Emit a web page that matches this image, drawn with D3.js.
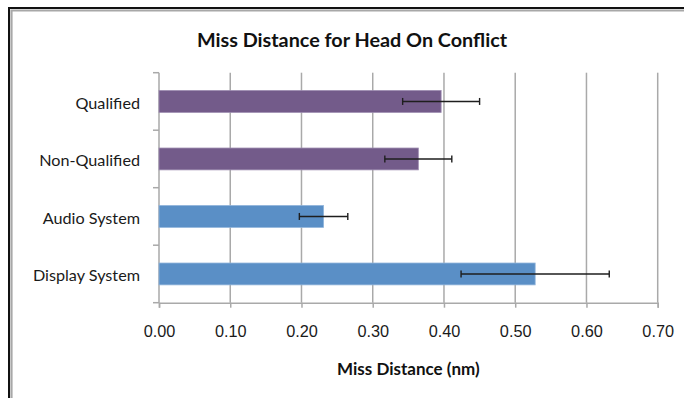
<!DOCTYPE html>
<html>
<head>
<meta charset="utf-8">
<script src="https://cdn.jsdelivr.net/npm/d3@7"></script>
<style>
  body { margin: 0; background: #fff; }
  svg { display: block; font-family: Lato, "Open Sans", sans-serif; }
</style>
</head>
<body>
<div id="chart"></div>
<script>
// chart data
var categories = ["Qualified", "Non-Qualified", "Audio System", "Display System"];
var missDistance = [0.396, 0.364, 0.231, 0.528];
var errorHalf = [0.054, 0.047, 0.034, 0.104];
var xTicks = [0, 0.1, 0.2, 0.3, 0.4, 0.5, 0.6, 0.7];

var svgWidth = 684, svgHeight = 398;
var margin = { top: 72.7, right: 26.3, bottom: 95.3, left: 159 };
var width = svgWidth - margin.left - margin.right;
var height = svgHeight - margin.top - margin.bottom;

var svg = d3.select("#chart").append("svg")
  .attr("width", svgWidth)
  .attr("height", svgHeight);

// outer frame (cut off at right / bottom)
svg.append("path")
  .attr("d", "M11.5,398V10.5H684")
  .attr("fill", "none")
  .attr("stroke", "#a8a8a8")
  .attr("stroke-width", 2.2);
svg.append("path")
  .attr("d", "M9,398V8H684")
  .attr("fill", "none")
  .attr("stroke", "#111")
  .attr("stroke-width", 2);

var chartGroup = svg.append("g")
  .attr("transform", `translate(${margin.left}, ${margin.top})`);

var x = d3.scaleLinear().domain([0, 0.7]).range([0, width]);
var y = d3.scaleBand().domain(categories).range([0, height])
  .paddingInner(0.62).paddingOuter(0.31);
var color = d3.scaleOrdinal()
  .domain(categories)
  .range(["#735b8a", "#735b8a", "#5a8fc6", "#5a8fc6"]);
var edge = d3.scaleOrdinal()
  .domain(categories)
  .range(["#9c8bb0", "#9c8bb0", "#8fb3da", "#8fb3da"]);

// vertical gridlines
chartGroup.append("g")
  .selectAll("line")
  .data(xTicks.slice(1))
  .enter()
  .append("line")
  .attr("x1", d => x(d)).attr("x2", d => x(d))
  .attr("y1", 0).attr("y2", height)
  .attr("stroke", "#a9a9a9")
  .attr("stroke-width", 1.5);

// x axis
var bottomAxis = d3.axisBottom(x)
  .tickValues(xTicks)
  .tickFormat(d3.format(".2f"))
  .tickSize(5)
  .tickPadding(18);
var xAxis = chartGroup.append("g")
  .attr("transform", `translate(0, ${height})`)
  .call(bottomAxis);
xAxis.select(".domain").attr("stroke", "#a9a9a9").attr("stroke-width", 1.5);
xAxis.selectAll(".tick line").attr("stroke", "#a9a9a9").attr("stroke-width", 1.5);
xAxis.selectAll(".tick text")
  .attr("fill", "#1a1a1a")
  .style("font-size", "16.3px");

// y axis: line + ticks at band boundaries
var step = y.step();
var boundaries = categories.map(c => y(c) - y.paddingOuter() * step);
boundaries.push(height);
chartGroup.append("line")
  .attr("x1", 0).attr("x2", 0)
  .attr("y1", 0).attr("y2", height)
  .attr("stroke", "#a9a9a9")
  .attr("stroke-width", 1.5);
chartGroup.append("g")
  .selectAll("line")
  .data(boundaries)
  .enter()
  .append("line")
  .attr("x1", -6).attr("x2", 0)
  .attr("y1", d => d).attr("y2", d => d)
  .attr("stroke", "#a9a9a9")
  .attr("stroke-width", 1.5);

chartGroup.append("g")
  .selectAll("text")
  .data(categories)
  .enter()
  .append("text")
  .attr("x", -19)
  .attr("y", d => y(d) + y.bandwidth() / 2 + 1.5)
  .attr("dy", "0.35em")
  .attr("text-anchor", "end")
  .attr("fill", "#1a1a1a")
  .style("font-size", "16.2px")
  .text(d => d);

// bars
chartGroup.selectAll(".bar")
  .data(categories)
  .enter()
  .append("rect")
  .classed("bar", true)
  .attr("x", x(0))
  .attr("y", d => y(d))
  .attr("width", (d, i) => x(missDistance[i]) - x(0))
  .attr("height", y.bandwidth())
  .attr("fill", d => color(d))
  .attr("stroke", d => edge(d))
  .attr("stroke-width", 0.8);

// error bars
var errGroup = chartGroup.append("g")
  .attr("stroke", "#1e1e1e")
  .attr("stroke-width", 1.4);
categories.forEach((c, i) => {
  var cy = y(c) + y.bandwidth() / 2;
  var lo = x(missDistance[i] - errorHalf[i]);
  var hi = x(missDistance[i] + errorHalf[i]);
  errGroup.append("line").attr("x1", lo).attr("x2", hi).attr("y1", cy).attr("y2", cy);
  errGroup.append("line").attr("x1", lo).attr("x2", lo).attr("y1", cy - 3.5).attr("y2", cy + 3.5);
  errGroup.append("line").attr("x1", hi).attr("x2", hi).attr("y1", cy - 3.5).attr("y2", cy + 3.5);
});

// titles
svg.append("text")
  .attr("x", 352)
  .attr("y", 47)
  .attr("text-anchor", "middle")
  .attr("fill", "#111")
  .style("font-size", "19.8px")
  .style("font-weight", "bold")
  .text("Miss Distance for Head On Conflict");

chartGroup.append("text")
  .attr("x", width / 2)
  .attr("y", height + 72.5)
  .attr("text-anchor", "middle")
  .attr("fill", "#111")
  .style("font-size", "17px")
  .style("font-weight", "bold")
  .text("Miss Distance (nm)");
</script>
</body>
</html>
